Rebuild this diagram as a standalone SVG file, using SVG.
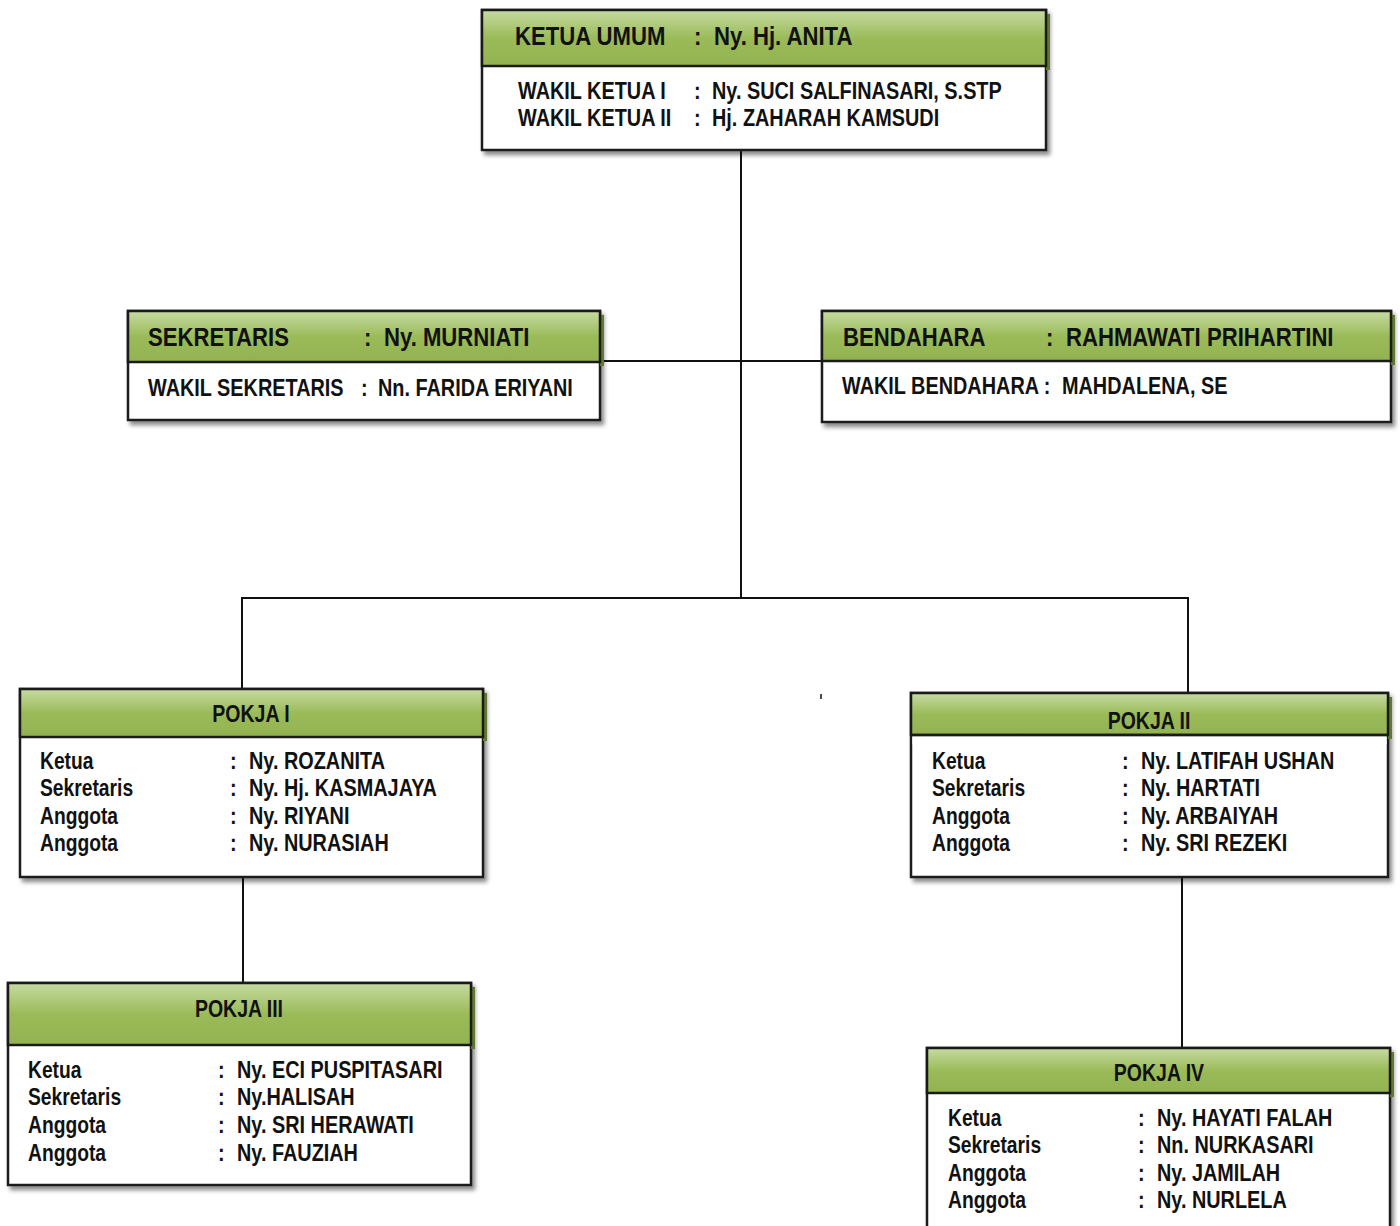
<svg xmlns="http://www.w3.org/2000/svg" width="1400" height="1226" viewBox="0 0 1400 1226">
<defs>
<linearGradient id="hg" x1="0" y1="0" x2="0" y2="1">
<stop offset="0" stop-color="#c6dba2"/>
<stop offset="0.5" stop-color="#9bbb59"/>
<stop offset="1" stop-color="#93b352"/>
</linearGradient>
<filter id="sh" x="-5%" y="-5%" width="115%" height="120%">
<feDropShadow dx="3" dy="4" stdDeviation="2" flood-color="#000" flood-opacity="0.45"/>
</filter>
</defs>
<style>
text{font-family:"Liberation Sans","Arial",sans-serif;font-weight:bold;fill:#111;}
.h{font-size:26.5px;}
.t{font-size:23.5px;}
.c{text-anchor:middle;}
.box{fill:#fff;stroke:#1a1a1a;stroke-width:2.5;}
.hd{fill:url(#hg);stroke:#1a1a1a;stroke-width:2.5;}
.hs{fill:#5f7a2e;}
.ln{stroke:#111;stroke-width:2;fill:none;}
</style>
<rect width="1400" height="1226" fill="#fff"/>
<g id="connectors">
<line class="ln" x1="741" y1="150" x2="741" y2="598"/>
<line class="ln" x1="600" y1="361" x2="822" y2="361"/>
<polyline class="ln" points="242,689 242,598 1188,598 1188,693"/>
<line class="ln" x1="243" y1="877" x2="243" y2="983"/>
<line class="ln" x1="1182" y1="877" x2="1182" y2="1048"/>
<line x1="821" y1="694" x2="821" y2="699" stroke="#111" stroke-width="1.5"/>
</g>
<g id="ketua">
<rect class="box" x="482" y="10" width="564" height="140" filter="url(#sh)"/>
<rect class="hs" x="1046" y="14" width="4" height="56"/>
<rect class="hd" x="482" y="10" width="564" height="56"/>
<text class="h" transform="translate(515 45) scale(.835 1)">KETUA UMUM</text>
<text class="h" transform="translate(694 45) scale(.835 1)">:</text>
<text class="h" transform="translate(714 45) scale(.835 1)">Ny. Hj. ANITA</text>
<text class="t" transform="translate(518 99) scale(.845 1)">WAKIL KETUA I</text>
<text class="t" transform="translate(694 99) scale(.845 1)">:</text>
<text class="t" transform="translate(712 99) scale(.845 1)">Ny. SUCI SALFINASARI, S.STP</text>
<text class="t" transform="translate(518 126) scale(.845 1)">WAKIL KETUA II</text>
<text class="t" transform="translate(694 126) scale(.845 1)">:</text>
<text class="t" transform="translate(712 126) scale(.845 1)">Hj. ZAHARAH KAMSUDI</text>
</g>
<g id="sekretaris">
<rect class="box" x="128" y="311" width="472" height="109" filter="url(#sh)"/>
<rect class="hs" x="600" y="315" width="4" height="51"/>
<rect class="hd" x="128" y="311" width="472" height="51"/>
<text class="h" transform="translate(148 346) scale(.835 1)">SEKRETARIS</text>
<text class="h" transform="translate(364 346) scale(.835 1)">:</text>
<text class="h" transform="translate(384 346) scale(.835 1)">Ny. MURNIATI</text>
<text class="t" transform="translate(148 396) scale(.845 1)">WAKIL SEKRETARIS</text>
<text class="t" transform="translate(361 396) scale(.845 1)">:</text>
<text class="t" transform="translate(378 396) scale(.845 1)">Nn. FARIDA ERIYANI</text>
</g>
<g id="bendahara">
<rect class="box" x="822" y="311" width="569" height="111" filter="url(#sh)"/>
<rect class="hs" x="1391" y="315" width="4" height="50"/>
<rect class="hd" x="822" y="311" width="569" height="50"/>
<text class="h" transform="translate(843 346) scale(.835 1)">BENDAHARA</text>
<text class="h" transform="translate(1046 346) scale(.835 1)">:</text>
<text class="h" transform="translate(1066 346) scale(.835 1)">RAHMAWATI PRIHARTINI</text>
<text class="t" transform="translate(842 394) scale(.845 1)">WAKIL BENDAHARA :</text>
<text class="t" transform="translate(1062 394) scale(.845 1)">MAHDALENA, SE</text>
</g>
<g id="pokja1">
<rect class="box" x="20" y="689" width="463" height="188" filter="url(#sh)"/>
<rect class="hs" x="483" y="693" width="4" height="48"/>
<rect class="hd" x="20" y="689" width="463" height="48"/>
<text class="t c" transform="translate(251 722) scale(.83 1)">POKJA I</text>
<text class="t" transform="translate(40 769) scale(.82 1)">Ketua</text><text class="t" transform="translate(230 769) scale(.845 1)">:</text><text class="t" transform="translate(249 769) scale(.845 1)">Ny. ROZANITA</text>
<text class="t" transform="translate(40 796) scale(.82 1)">Sekretaris</text><text class="t" transform="translate(230 796) scale(.845 1)">:</text><text class="t" transform="translate(249 796) scale(.845 1)">Ny. Hj. KASMAJAYA</text>
<text class="t" transform="translate(40 824) scale(.82 1)">Anggota</text><text class="t" transform="translate(230 824) scale(.845 1)">:</text><text class="t" transform="translate(249 824) scale(.845 1)">Ny. RIYANI</text>
<text class="t" transform="translate(40 851) scale(.82 1)">Anggota</text><text class="t" transform="translate(230 851) scale(.845 1)">:</text><text class="t" transform="translate(249 851) scale(.845 1)">Ny. NURASIAH</text>
</g>
<g id="pokja2">
<rect class="box" x="911" y="693" width="477" height="184" filter="url(#sh)"/>
<rect class="hs" x="1388" y="697" width="4" height="42"/>
<rect class="hd" x="911" y="693" width="477" height="42"/>
<text class="t c" transform="translate(1149 729) scale(.83 1)">POKJA II</text>
<rect x="912.5" y="736.5" width="474" height="8" fill="#fff"/>
<line x1="911" y1="735" x2="1388" y2="735" stroke="#1a1a1a" stroke-width="2.5"/>
<text class="t" transform="translate(932 769) scale(.82 1)">Ketua</text><text class="t" transform="translate(1122 769) scale(.845 1)">:</text><text class="t" transform="translate(1141 769) scale(.845 1)">Ny. LATIFAH USHAN</text>
<text class="t" transform="translate(932 796) scale(.82 1)">Sekretaris</text><text class="t" transform="translate(1122 796) scale(.845 1)">:</text><text class="t" transform="translate(1141 796) scale(.845 1)">Ny. HARTATI</text>
<text class="t" transform="translate(932 824) scale(.82 1)">Anggota</text><text class="t" transform="translate(1122 824) scale(.845 1)">:</text><text class="t" transform="translate(1141 824) scale(.845 1)">Ny. ARBAIYAH</text>
<text class="t" transform="translate(932 851) scale(.82 1)">Anggota</text><text class="t" transform="translate(1122 851) scale(.845 1)">:</text><text class="t" transform="translate(1141 851) scale(.845 1)">Ny. SRI REZEKI</text>
</g>
<g id="pokja3">
<rect class="box" x="8" y="983" width="463" height="202" filter="url(#sh)"/>
<rect class="hs" x="471" y="987" width="4" height="62"/>
<rect class="hd" x="8" y="983" width="463" height="62"/>
<text class="t c" transform="translate(239 1017) scale(.83 1)">POKJA III</text>
<text class="t" transform="translate(28 1078) scale(.82 1)">Ketua</text><text class="t" transform="translate(218 1078) scale(.845 1)">:</text><text class="t" transform="translate(237 1078) scale(.845 1)">Ny. ECI PUSPITASARI</text>
<text class="t" transform="translate(28 1105) scale(.82 1)">Sekretaris</text><text class="t" transform="translate(218 1105) scale(.845 1)">:</text><text class="t" transform="translate(237 1105) scale(.845 1)">Ny.HALISAH</text>
<text class="t" transform="translate(28 1133) scale(.82 1)">Anggota</text><text class="t" transform="translate(218 1133) scale(.845 1)">:</text><text class="t" transform="translate(237 1133) scale(.845 1)">Ny. SRI HERAWATI</text>
<text class="t" transform="translate(28 1161) scale(.82 1)">Anggota</text><text class="t" transform="translate(218 1161) scale(.845 1)">:</text><text class="t" transform="translate(237 1161) scale(.845 1)">Ny. FAUZIAH</text>
</g>
<g id="pokja4">
<rect class="box" x="927" y="1048" width="463" height="190" filter="url(#sh)"/>
<rect class="hs" x="1390" y="1052" width="4" height="45"/>
<rect class="hd" x="927" y="1048" width="463" height="45"/>
<text class="t c" transform="translate(1159 1081) scale(.83 1)">POKJA IV</text>
<text class="t" transform="translate(948 1126) scale(.82 1)">Ketua</text><text class="t" transform="translate(1138 1126) scale(.845 1)">:</text><text class="t" transform="translate(1157 1126) scale(.845 1)">Ny. HAYATI FALAH</text>
<text class="t" transform="translate(948 1153) scale(.82 1)">Sekretaris</text><text class="t" transform="translate(1138 1153) scale(.845 1)">:</text><text class="t" transform="translate(1157 1153) scale(.845 1)">Nn. NURKASARI</text>
<text class="t" transform="translate(948 1181) scale(.82 1)">Anggota</text><text class="t" transform="translate(1138 1181) scale(.845 1)">:</text><text class="t" transform="translate(1157 1181) scale(.845 1)">Ny. JAMILAH</text>
<text class="t" transform="translate(948 1208) scale(.82 1)">Anggota</text><text class="t" transform="translate(1138 1208) scale(.845 1)">:</text><text class="t" transform="translate(1157 1208) scale(.845 1)">Ny. NURLELA</text>
</g>
</svg>
